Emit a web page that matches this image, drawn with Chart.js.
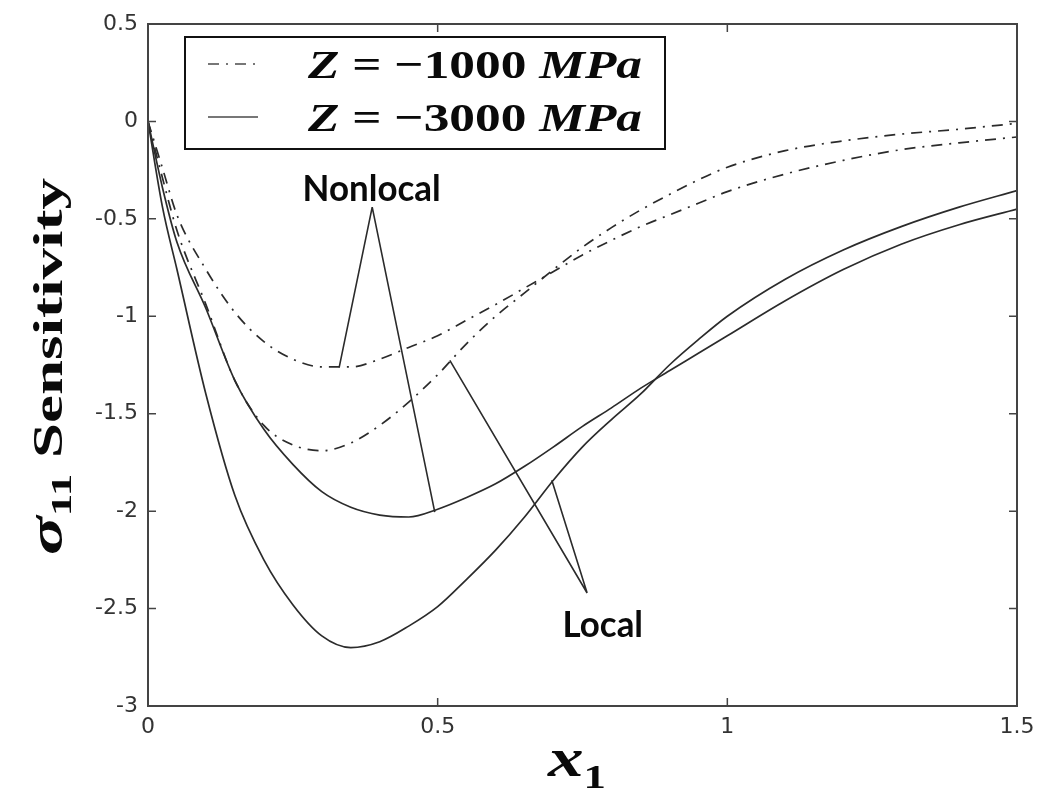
<!DOCTYPE html>
<html>
<head>
<meta charset="utf-8">
<script src="https://cdn.jsdelivr.net/npm/chart.js@4.4.0/dist/chart.umd.min.js"></script>
<style>
  html, body { margin: 0; padding: 0; background: #fff; }
</style>
</head>
<body>
<canvas id="ch" width="1049" height="794"></canvas>
<script>
// x1 positions shared by all four curves
var xVals = [0, 0.025, 0.05, 0.1, 0.15, 0.2, 0.25, 0.3, 0.35, 0.4, 0.45, 0.5, 0.55, 0.6, 0.65, 0.7, 0.75, 0.8, 0.85, 0.9, 0.95, 1.0, 1.1, 1.2, 1.3, 1.4, 1.5];

// Z = -1000 MPa (dash-dot)
var nonlocal1000 = [0, -0.24, -0.48, -0.76, -0.98, -1.13, -1.22, -1.26, -1.26, -1.22, -1.16, -1.10, -1.02, -0.94, -0.855, -0.77, -0.685, -0.61, -0.54, -0.48, -0.42, -0.36, -0.27, -0.20, -0.145, -0.11, -0.08];
var local1000 = [0, -0.29, -0.56, -0.94, -1.33, -1.56, -1.66, -1.69, -1.65, -1.56, -1.44, -1.30, -1.14, -1.00, -0.88, -0.76, -0.645, -0.545, -0.455, -0.375, -0.30, -0.235, -0.15, -0.10, -0.065, -0.04, -0.01];

// Z = -3000 MPa (solid)
var nonlocal3000 = [0, -0.34, -0.62, -0.96, -1.33, -1.58, -1.76, -1.90, -1.98, -2.02, -2.03, -1.99, -1.93, -1.86, -1.77, -1.67, -1.565, -1.47, -1.37, -1.28, -1.19, -1.10, -0.92, -0.76, -0.63, -0.53, -0.45];
var local3000 = [0, -0.44, -0.76, -1.40, -1.92, -2.25, -2.48, -2.64, -2.70, -2.67, -2.59, -2.49, -2.35, -2.20, -2.03, -1.84, -1.67, -1.53, -1.40, -1.25, -1.12, -1.00, -0.81, -0.66, -0.54, -0.44, -0.355];

var xTicks = [0, 0.5, 1, 1.5];
var yTicks = [0.5, 0, -0.5, -1, -1.5, -2, -2.5, -3];
var zLabels = ["\u22121000", "\u22123000"];

// annotation pointers, in data units
var notes = [
  { text: "Nonlocal", x: 0.386, y: -0.34, apex: [0.387, -0.44], ends: [[0.330, -1.262], [0.495, -2.005]] },
  { text: "Local", x: 0.785, y: -2.58, apex: [0.758, -2.42], ends: [[0.521, -1.226], [0.697, -1.841]] }
];

var INK = "#2b2b2b";
var DASHDOT = [11, 7, 2, 7];

function pts(ys) {
  return xVals.map(function (x, i) { return { x: x, y: ys[i] }; });
}

function serie(ys, dash) {
  return {
    data: pts(ys), borderColor: INK, borderWidth: 1.7, borderDash: dash,
    pointRadius: 0, fill: false, cubicInterpolationMode: "monotone"
  };
}

function fmt(v) { return String(v).replace("\u2212", "-"); }

// draw runs of text with mixed fonts, squeezed/stretched to a target width
function runs(ctx, list, x, y, width) {
  var total = 0;
  list.forEach(function (r) { ctx.font = r.f; r.w = ctx.measureText(r.t).width; total += r.w; });
  ctx.save();
  ctx.translate(x, y);
  ctx.scale(width / total, 1);
  var cx = 0;
  list.forEach(function (r) { ctx.font = r.f; ctx.fillText(r.t, cx, r.dy || 0); cx += r.w; });
  ctx.restore();
}

var extras = {
  id: "extras",
  afterDraw: function (chart) {
    var ctx = chart.ctx, a = chart.chartArea, sx = chart.scales.x, sy = chart.scales.y;
    ctx.save();

    // box + inward ticks
    ctx.strokeStyle = "#444";
    ctx.lineWidth = 2;
    ctx.strokeRect(a.left, a.top, a.right - a.left, a.bottom - a.top);
    ctx.lineWidth = 1.5;
    ctx.beginPath();
    xTicks.forEach(function (v) {
      var p = sx.getPixelForValue(v);
      ctx.moveTo(p, a.bottom); ctx.lineTo(p, a.bottom - 8);
      ctx.moveTo(p, a.top); ctx.lineTo(p, a.top + 8);
    });
    yTicks.forEach(function (v) {
      var p = sy.getPixelForValue(v);
      ctx.moveTo(a.left, p); ctx.lineTo(a.left + 8, p);
      ctx.moveTo(a.right, p); ctx.lineTo(a.right - 8, p);
    });
    ctx.stroke();

    // pointer lines
    ctx.strokeStyle = INK;
    ctx.lineWidth = 1.6;
    notes.forEach(function (n) {
      var ax = sx.getPixelForValue(n.apex[0]), ay = sy.getPixelForValue(n.apex[1]);
      ctx.beginPath();
      n.ends.forEach(function (e) {
        ctx.moveTo(ax, ay);
        ctx.lineTo(sx.getPixelForValue(e[0]), sy.getPixelForValue(e[1]));
      });
      ctx.stroke();
    });

    // pointer labels
    ctx.fillStyle = "#0a0a0a";
    ctx.textBaseline = "alphabetic";
    notes.forEach(function (n) {
      ctx.font = "bold 36px Lato";
      var w = ctx.measureText(n.text).width * 0.97;
      var px = sx.getPixelForValue(n.x), py = sy.getPixelForValue(n.y);
      runs(ctx, [{ t: n.text, f: "bold 36px Lato" }], px - w / 2, py + 13, w);
    });

    // legend
    var L = { left: 185, top: 37, right: 665, bottom: 149 };
    ctx.fillStyle = "#fff";
    ctx.fillRect(L.left, L.top, L.right - L.left, L.bottom - L.top);
    ctx.strokeStyle = "#111";
    ctx.lineWidth = 2;
    ctx.strokeRect(L.left, L.top, L.right - L.left, L.bottom - L.top);
    var rows = [{ y: 64, dash: DASHDOT }, { y: 117, dash: [] }];
    rows.forEach(function (r, i) {
      ctx.strokeStyle = "#777";
      ctx.lineWidth = 2.2;
      ctx.setLineDash(r.dash);
      ctx.beginPath(); ctx.moveTo(208, r.y); ctx.lineTo(258, r.y); ctx.stroke();
      ctx.setLineDash([]);
      ctx.fillStyle = "#0a0a0a";
      runs(ctx, [
        { t: "Z", f: "italic bold 41px 'Liberation Serif'" },
        { t: " = ", f: "bold 41px 'Liberation Serif'" },
        { t: zLabels[i] + " ", f: "bold 41px 'Liberation Serif'" },
        { t: "MPa", f: "italic bold 41px 'Liberation Serif'" }
      ], 308, r.y + 14, 334);
    });

    // x title
    runs(ctx, [
      { t: "x", f: "italic bold 54px 'Liberation Serif'" },
      { t: "1", f: "bold 34px 'Liberation Serif'", dy: 12 }
    ], 548, 776, 58);

    // y title (rotated)
    ctx.translate(62, 555);
    ctx.rotate(-Math.PI / 2);
    runs(ctx, [
      { t: "\u03c3", f: "italic bold 48px 'Liberation Serif'" },
      { t: "11", f: "bold 30px 'Liberation Serif'", dy: 9 },
      { t: " Sensitivity", f: "bold 42px 'Liberation Serif'" }
    ], 0, 0, 377);

    ctx.restore();
  }
};

var tickFont = { family: "'DejaVu Sans'", size: 22 };

new Chart(document.getElementById("ch"), {
  type: "line",
  data: {
    datasets: [
      serie(nonlocal1000, DASHDOT),
      serie(local1000, DASHDOT),
      serie(nonlocal3000, []),
      serie(local3000, [])
    ]
  },
  options: {
    responsive: false,
    animation: false,
    layout: { padding: { left: 0, top: 24, right: 32, bottom: 28 } },
    plugins: { legend: { display: false }, tooltip: { enabled: false } },
    scales: {
      x: {
        type: "linear", min: 0, max: 1.5,
        afterBuildTicks: function (s) { s.ticks = xTicks.map(function (v) { return { value: v }; }); },
        ticks: { color: "#333", font: tickFont, padding: 8, maxRotation: 0, callback: fmt },
        grid: { display: false, drawTicks: false },
        border: { display: false },
        afterFit: function (s) { s.height = 60; }
      },
      y: {
        type: "linear", min: -3, max: 0.5,
        afterBuildTicks: function (s) { s.ticks = yTicks.map(function (v) { return { value: v }; }); },
        ticks: { color: "#333", font: tickFont, padding: 10, callback: fmt },
        grid: { display: false, drawTicks: false },
        border: { display: false },
        afterFit: function (s) { s.width = 148; }
      }
    }
  },
  plugins: [extras]
});
</script>
</body>
</html>
